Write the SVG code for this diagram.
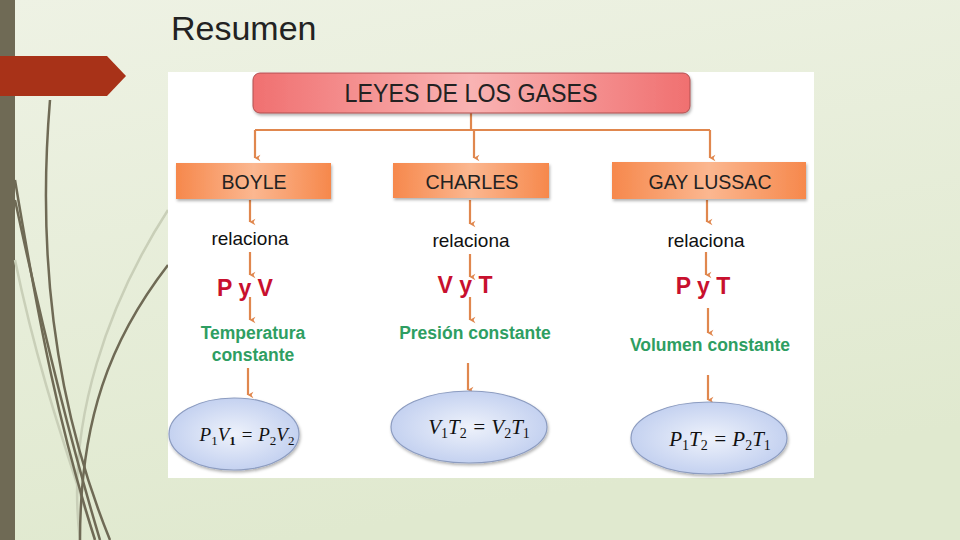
<svg xmlns="http://www.w3.org/2000/svg" width="960" height="540" viewBox="0 0 960 540">
<defs>
<linearGradient id="bg" x1="0" y1="0" x2="0.3" y2="1">
<stop offset="0" stop-color="#eef2e4"/><stop offset="1" stop-color="#e0e9cf"/>
</linearGradient>
<linearGradient id="red" x1="0" y1="0" x2="1" y2="0">
<stop offset="0" stop-color="#f07070"/><stop offset="0.5" stop-color="#f9b3b3"/><stop offset="1" stop-color="#f07070"/>
</linearGradient>
<linearGradient id="org" x1="0" y1="0" x2="1" y2="0">
<stop offset="0" stop-color="#f6884c"/><stop offset="0.5" stop-color="#fbb790"/><stop offset="1" stop-color="#f6884c"/>
</linearGradient>
<radialGradient id="blu" cx="0.5" cy="0.5" r="0.6">
<stop offset="0" stop-color="#eef2fb"/><stop offset="1" stop-color="#bccbee"/>
</radialGradient>
<marker id="ah" viewBox="0 0 10 10" refX="5" refY="9" markerWidth="9" markerHeight="9" orient="auto-start-reverse" markerUnits="userSpaceOnUse">
<path d="M1.5,3 L5,9.5 L8.5,3 L5,5 Z" fill="#e0874e"/>
</marker>
<filter id="sh" x="-10%" y="-20%" width="130%" height="150%">
<feDropShadow dx="1" dy="2" stdDeviation="1.5" flood-color="#000" flood-opacity="0.3"/>
</filter>
</defs>
<style>
.box{font-family:"Liberation Sans",Arial,sans-serif;fill:#222;text-anchor:middle}
.rel{font-family:"Liberation Sans",Arial,sans-serif;font-size:19px;fill:#111;text-anchor:middle}
.var{font-family:"Liberation Sans",Arial,sans-serif;font-size:23px;font-weight:bold;fill:#c8102e;text-anchor:middle}
.cst{font-family:"Liberation Sans",Arial,sans-serif;font-size:17.5px;font-weight:bold;fill:#2e9e62;text-anchor:middle}
.eq{font-family:"Liberation Serif","Times New Roman",serif;font-style:italic;font-size:19px;fill:#111;text-anchor:middle}
.eq.big{font-size:21px}
.sub{font-style:normal;font-size:13px}
.big .sub{font-size:14px}
.con{fill:none;stroke:#e0874e;stroke-width:2.2}
.dec{fill:none;stroke:#6f6a55;stroke-width:2.5}
.decl{fill:none;stroke:#c9cfb8;stroke-width:2.5}
</style>
<rect width="960" height="540" fill="url(#bg)"/>
<rect x="0" y="0" width="15" height="540" fill="#6f6a55"/>
<g id="decor">
<path class="decl" d="M168,210 C110,300 65,420 80,540"/>
<path class="decl" d="M15,260 C40,380 70,460 95,540"/>
<path class="dec" d="M50,100 C40,220 45,380 110,540"/>
<path class="dec" d="M15,180 C40,330 60,430 95,540"/>
<path class="dec" d="M15,200 C45,340 70,440 100,540"/>
<path class="dec" d="M168,265 C110,340 80,420 80,540"/>
</g>
<path d="M0,56 L107,56 L126,76 L107,96 L30,96 L0,96 Z" fill="#a83218"/>
<text x="171" y="40" font-family="Liberation Sans,Arial,sans-serif" font-size="34" fill="#222">Resumen</text>
<rect x="168" y="72" width="646" height="406" fill="#ffffff"/>
<g id="connectors">
<path class="con" d="M471,113 V130 M255,130 H710"/>
<path class="con" marker-end="url(#ah)" d="M255,130 V158"/>
<path class="con" marker-end="url(#ah)" d="M474,130 V158"/>
<path class="con" marker-end="url(#ah)" d="M710,130 V158"/>
<path class="con" marker-end="url(#ah)" d="M250,200 V222"/>
<path class="con" marker-end="url(#ah)" d="M470,200 V224"/>
<path class="con" marker-end="url(#ah)" d="M707,200 V222"/>
<path class="con" marker-end="url(#ah)" d="M250,252 V275"/>
<path class="con" marker-end="url(#ah)" d="M470,254 V277"/>
<path class="con" marker-end="url(#ah)" d="M706,252 V275"/>
<path class="con" marker-end="url(#ah)" d="M250,297 V320"/>
<path class="con" marker-end="url(#ah)" d="M470,297 V320"/>
<path class="con" marker-end="url(#ah)" d="M708,308 V333"/>
<path class="con" marker-end="url(#ah)" d="M248,368 V395"/>
<path class="con" marker-end="url(#ah)" d="M468,363 V390"/>
<path class="con" marker-end="url(#ah)" d="M708,375 V400"/>
</g>
<g id="n-leyes">
<rect x="253" y="73" width="437" height="40" rx="7" fill="url(#red)" stroke="#b05050" stroke-width="1" filter="url(#sh)"/>
<text class="box" x="471" y="102" font-size="25" textLength="253" lengthAdjust="spacingAndGlyphs">LEYES DE LOS GASES</text>
</g>
<g id="n-boyle">
<rect x="176" y="163" width="155" height="36" fill="url(#org)" filter="url(#sh)"/>
<text class="box" x="254" y="189" font-size="21" textLength="65" lengthAdjust="spacingAndGlyphs">BOYLE</text>
</g>
<g id="n-charles">
<rect x="393" y="163" width="156" height="35" fill="url(#org)" filter="url(#sh)"/>
<text class="box" x="472" y="189" font-size="21" textLength="93" lengthAdjust="spacingAndGlyphs">CHARLES</text>
</g>
<g id="n-gay">
<rect x="612" y="162" width="194" height="37" fill="url(#org)" filter="url(#sh)"/>
<text class="box" x="710" y="189" font-size="21" textLength="123" lengthAdjust="spacingAndGlyphs">GAY LUSSAC</text>
</g>
<g id="n-rel1"><text class="rel" x="250" y="245">relaciona</text></g>
<g id="n-rel2"><text class="rel" x="471" y="247">relaciona</text></g>
<g id="n-rel3"><text class="rel" x="706" y="247">relaciona</text></g>
<g id="n-pv"><text class="var" x="245" y="296">P y V</text></g>
<g id="n-vt"><text class="var" x="465" y="293">V y T</text></g>
<g id="n-pt"><text class="var" x="703" y="294">P y T</text></g>
<g id="n-temp"><text class="cst" x="253" y="339">Temperatura</text><text class="cst" x="253" y="361">constante</text></g>
<g id="n-pres"><text class="cst" x="475" y="339">Presión constante</text></g>
<g id="n-vol"><text class="cst" x="710" y="351">Volumen constante</text></g>
<g id="n-eq1">
<ellipse cx="234" cy="434" rx="65" ry="36" fill="url(#blu)" stroke="#8c9cc0" stroke-width="1.2" filter="url(#sh)"/>
<text class="eq" x="247" y="441">P<tspan class="sub" dy="4">1</tspan><tspan dy="-4">V</tspan><tspan class="sub" dy="4" font-weight="bold">1</tspan><tspan dy="-4"> =  P</tspan><tspan class="sub" dy="4">2</tspan><tspan dy="-4">V</tspan><tspan class="sub" dy="4">2</tspan></text>
</g>
<g id="n-eq2">
<ellipse cx="469" cy="427" rx="78" ry="36" fill="url(#blu)" stroke="#8c9cc0" stroke-width="1.2" filter="url(#sh)"/>
<text class="eq big" x="479" y="434">V<tspan class="sub" dy="4">1</tspan><tspan dy="-4">T</tspan><tspan class="sub" dy="4">2</tspan><tspan dy="-4"> =  V</tspan><tspan class="sub" dy="4">2</tspan><tspan dy="-4">T</tspan><tspan class="sub" dy="4">1</tspan></text>
</g>
<g id="n-eq3">
<ellipse cx="709" cy="438" rx="78" ry="36" fill="url(#blu)" stroke="#8c9cc0" stroke-width="1.2" filter="url(#sh)"/>
<text class="eq big" x="720" y="446">P<tspan class="sub" dy="4">1</tspan><tspan dy="-4">T</tspan><tspan class="sub" dy="4">2</tspan><tspan dy="-4"> =  P</tspan><tspan class="sub" dy="4">2</tspan><tspan dy="-4">T</tspan><tspan class="sub" dy="4">1</tspan></text>
</g>
</svg>
